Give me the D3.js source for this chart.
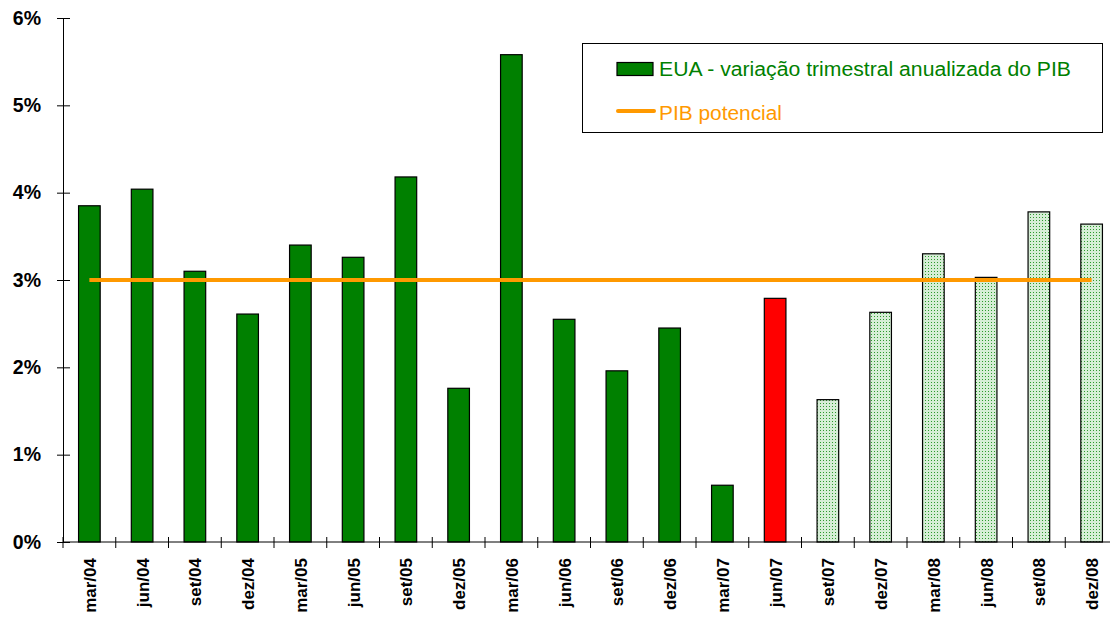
<!DOCTYPE html>
<html><head><meta charset="utf-8">
<script src="https://cdn.jsdelivr.net/npm/d3@7"></script>
<style>body{margin:0;background:#fff}svg{display:block}</style>
</head><body>
<svg id="c" width="1110" height="617"></svg>
<script>
const categories = ["mar/04","jun/04","set/04","dez/04","mar/05","jun/05","set/05","dez/05","mar/06","jun/06","set/06","dez/06","mar/07","jun/07","set/07","dez/07","mar/08","jun/08","set/08","dez/08"];
const gdpValues = [3.85,4.04,3.10,2.61,3.40,3.26,4.18,1.76,5.58,2.55,1.96,2.45,0.65,2.79,1.63,2.63,3.30,3.03,3.78,3.64];
const barKind = ["a","a","a","a","a","a","a","a","a","a","a","a","a","r","p","p","p","p","p","p"];
const potentialValue = 3;
const yTicks = [0,1,2,3,4,5,6];
const legendLabels = ["EUA - variação trimestral anualizada do PIB","PIB potencial"];

(function(){
const svg = d3.select("#c");
const font = "Liberation Sans, Arial, sans-serif";
const mLeft = 63, mRight = 1118, mTop = 18, mBottom = 542;

const defs = svg.append("defs");
const pat = defs.append("pattern").attr("id","dots").attr("patternUnits","userSpaceOnUse").attr("width",3).attr("height",3);
pat.append("rect").attr("width",3).attr("height",3).attr("fill","#d6eed6");
pat.append("rect").attr("x",1).attr("y",1).attr("width",1).attr("height",1).attr("fill","#2e9a2e");

const x = d3.scaleBand().domain(categories).range([mLeft,mRight]).paddingInner(0.59).paddingOuter(0.295);
const y = d3.scaleLinear().domain([0,6]).range([mBottom,mTop]);
const bw = x.bandwidth();
const cx = c => x(c) + bw/2;

const fills = {a:"#008000", r:"#ff0000", p:"url(#dots)"};
svg.append("g").selectAll("rect").data(categories).join("rect")
  .attr("x", c => x(c)).attr("width", bw)
  .attr("y", (c,i) => y(gdpValues[i])).attr("height", (c,i) => y(0)-y(gdpValues[i]))
  .attr("fill", (c,i) => fills[barKind[i]])
  .attr("stroke","#000").attr("stroke-width",1.2);

svg.append("line")
  .attr("x1", cx(categories[0])).attr("x2", cx(categories[categories.length-1]))
  .attr("y1", y(potentialValue)).attr("y2", y(potentialValue))
  .attr("stroke","#ff9900").attr("stroke-width",4);

const yAxis = svg.append("g").attr("transform",`translate(${mLeft},0)`)
  .call(d3.axisLeft(y).tickValues(yTicks).tickFormat(d => d+"%").tickSizeInner(6).tickSizeOuter(0));
yAxis.select(".domain").attr("stroke","#000");
yAxis.selectAll(".tick line").attr("x1",-6).attr("x2",7).attr("stroke","#000");
yAxis.selectAll(".tick text").attr("x",-22).attr("font-family",font).attr("font-size",19.5).attr("font-weight","bold").attr("fill","#000");

const step = x.step();
const xg = svg.append("g");
xg.append("line").attr("x1",mLeft).attr("x2",mRight).attr("y1",mBottom).attr("y2",mBottom).attr("stroke","#000");
const bounds = d3.range(categories.length+1).map(i => mLeft + i*step);
xg.selectAll("line.t").data(bounds).join("line").attr("class","t")
  .attr("x1",d=>d).attr("x2",d=>d).attr("y1",mBottom-5).attr("y2",mBottom+6).attr("stroke","#000");
xg.selectAll("text").data(categories).join("text")
  .attr("transform", c => `translate(${cx(c)+6.5},${mBottom+16}) rotate(-90)`)
  .attr("text-anchor","end")
  .attr("font-family",font).attr("font-size",17).attr("font-weight","bold").attr("fill","#000")
  .text(c => c);

const lg = svg.append("g");
lg.append("rect").attr("x",582.5).attr("y",43.5).attr("width",520).attr("height",89).attr("fill","#fff").attr("stroke","#000").attr("stroke-width",1);
lg.append("rect").attr("x",617).attr("y",62.5).attr("width",36).attr("height",13).attr("fill","#008000").attr("stroke","#000").attr("stroke-width",1.2);
lg.append("text").attr("x",659).attr("y",76).attr("font-family",font).attr("font-size",20)
  .attr("textLength",412).attr("lengthAdjust","spacingAndGlyphs").attr("fill","#008000").text(legendLabels[0]);
lg.append("line").attr("x1",618).attr("x2",654).attr("y1",111).attr("y2",111).attr("stroke","#ff9900").attr("stroke-width",4).attr("stroke-linecap","round");
lg.append("text").attr("x",659).attr("y",120).attr("font-family",font).attr("font-size",20)
  .attr("textLength",123).attr("lengthAdjust","spacingAndGlyphs").attr("fill","#ff9900").text(legendLabels[1]);
})();
</script>
</body></html>
